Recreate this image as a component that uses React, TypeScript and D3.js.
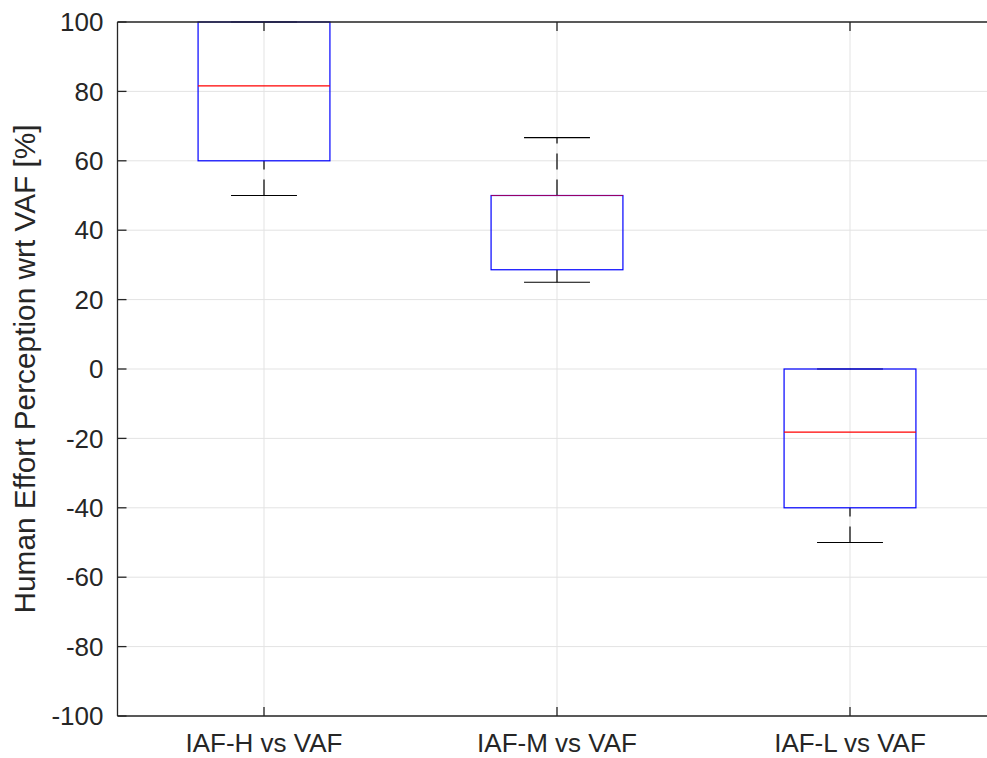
import React from "react";
import * as d3 from "d3";

// box statistics
const categories = ["IAF-H vs VAF", "IAF-M vs VAF", "IAF-L vs VAF"];
const lowerWhisker = [50, 25, -50];
const q1 = [60, 28.6, -40];
const medians = [81.6, 50, -18.2];
const q3 = [100, 50, 0];
const upperWhisker = [100, 66.7, 0];

const yTicks = [-100, -80, -60, -40, -20, 0, 20, 40, 60, 80, 100];

const width = 987;
const height = 758;
const left = 117.5;
const top = 22;
const bottom = 716;
const unit = 293; // px per category

const App: React.FC = () => {
  const x = d3.scaleLinear().domain([0.5, 3.5]).range([left, left + 3 * unit]);
  const y = d3.scaleLinear().domain([-100, 100]).range([bottom, top]);

  const axisColor = "#262626";
  const gridColor = "#e3e3e3";
  const font = "'Liberation Sans', Arial, Helvetica, sans-serif";
  const boxHalf = 0.225;
  const capHalf = boxHalf / 2;
  const tickLen = 9;

  const boxes = categories.map((c, i) => ({
    name: c,
    pos: i + 1,
    lo: lowerWhisker[i],
    q1: q1[i],
    med: medians[i],
    q3: q3[i],
    hi: upperWhisker[i],
  }));

  return (
    <svg
      width={width}
      height={height}
      style={{ position: "absolute", left: 0, top: 0, background: "#fff" }}
    >
      {/* grid */}
      <g stroke={gridColor} strokeWidth={1}>
        {yTicks.map(t => (
          <line key={"gy" + t} x1={left} x2={x(3.5)} y1={y(t)} y2={y(t)} />
        ))}
        {boxes.map(b => (
          <line key={"gx" + b.pos} x1={x(b.pos)} x2={x(b.pos)} y1={top} y2={bottom} />
        ))}
      </g>

      {/* boxes */}
      {boxes.map(b => {
        const cx = x(b.pos);
        return (
          <g key={b.name}>
            <g stroke="#000" strokeWidth={1.2} fill="none">
              <line x1={cx} x2={cx} y1={y(b.q3)} y2={y(b.hi)} strokeDasharray="16,10" />
              <line x1={cx} x2={cx} y1={y(b.lo)} y2={y(b.q1)} strokeDasharray="16,10" />
              <line x1={x(b.pos - capHalf)} x2={x(b.pos + capHalf)} y1={y(b.hi)} y2={y(b.hi)} />
              <line x1={x(b.pos - capHalf)} x2={x(b.pos + capHalf)} y1={y(b.lo)} y2={y(b.lo)} />
            </g>
            <rect
              x={x(b.pos - boxHalf)}
              y={y(b.q3)}
              width={x(b.pos + boxHalf) - x(b.pos - boxHalf)}
              height={y(b.q1) - y(b.q3)}
              fill="none"
              stroke="#0000ff"
              strokeWidth={1.2}
            />
            <line
              x1={x(b.pos - boxHalf)}
              x2={x(b.pos + boxHalf)}
              y1={y(b.med)}
              y2={y(b.med)}
              stroke="#ff0000"
              strokeWidth={1.2}
              strokeOpacity={b.med === b.q3 ? 0.6 : 1}
            />
          </g>
        );
      })}

      {/* axes */}
      <g stroke={axisColor} strokeWidth={1.3} fill="none">
        <line x1={left} x2={left} y1={top} y2={bottom} />
        <line x1={left} x2={x(3.5)} y1={bottom} y2={bottom} />
        <line x1={left} x2={x(3.5)} y1={top} y2={top} />
        {yTicks.map(t => (
          <line key={"ty" + t} x1={left} x2={left + tickLen} y1={y(t)} y2={y(t)} />
        ))}
        {boxes.map(b => (
          <g key={"tx" + b.pos}>
            <line x1={x(b.pos)} x2={x(b.pos)} y1={bottom} y2={bottom - tickLen} />
            <line x1={x(b.pos)} x2={x(b.pos)} y1={top} y2={top + tickLen} />
          </g>
        ))}
      </g>

      {/* tick labels */}
      <g fill={axisColor} fontFamily={font} fontSize={26}>
        {yTicks.map(t => (
          <text key={"ly" + t} x={103.5} y={y(t)} dy="0.35em" textAnchor="end">
            {t}
          </text>
        ))}
        {boxes.map(b => (
          <text key={"lx" + b.pos} x={x(b.pos)} y={752} textAnchor="middle">
            {b.name}
          </text>
        ))}
      </g>

      <text
        transform={`translate(35, ${(top + bottom) / 2}) rotate(-90)`}
        textAnchor="middle"
        fill={axisColor}
        fontFamily={font}
        fontSize={29.8}
      >
        Human Effort Perception wrt VAF [%]
      </text>
    </svg>
  );
};

export default App;
